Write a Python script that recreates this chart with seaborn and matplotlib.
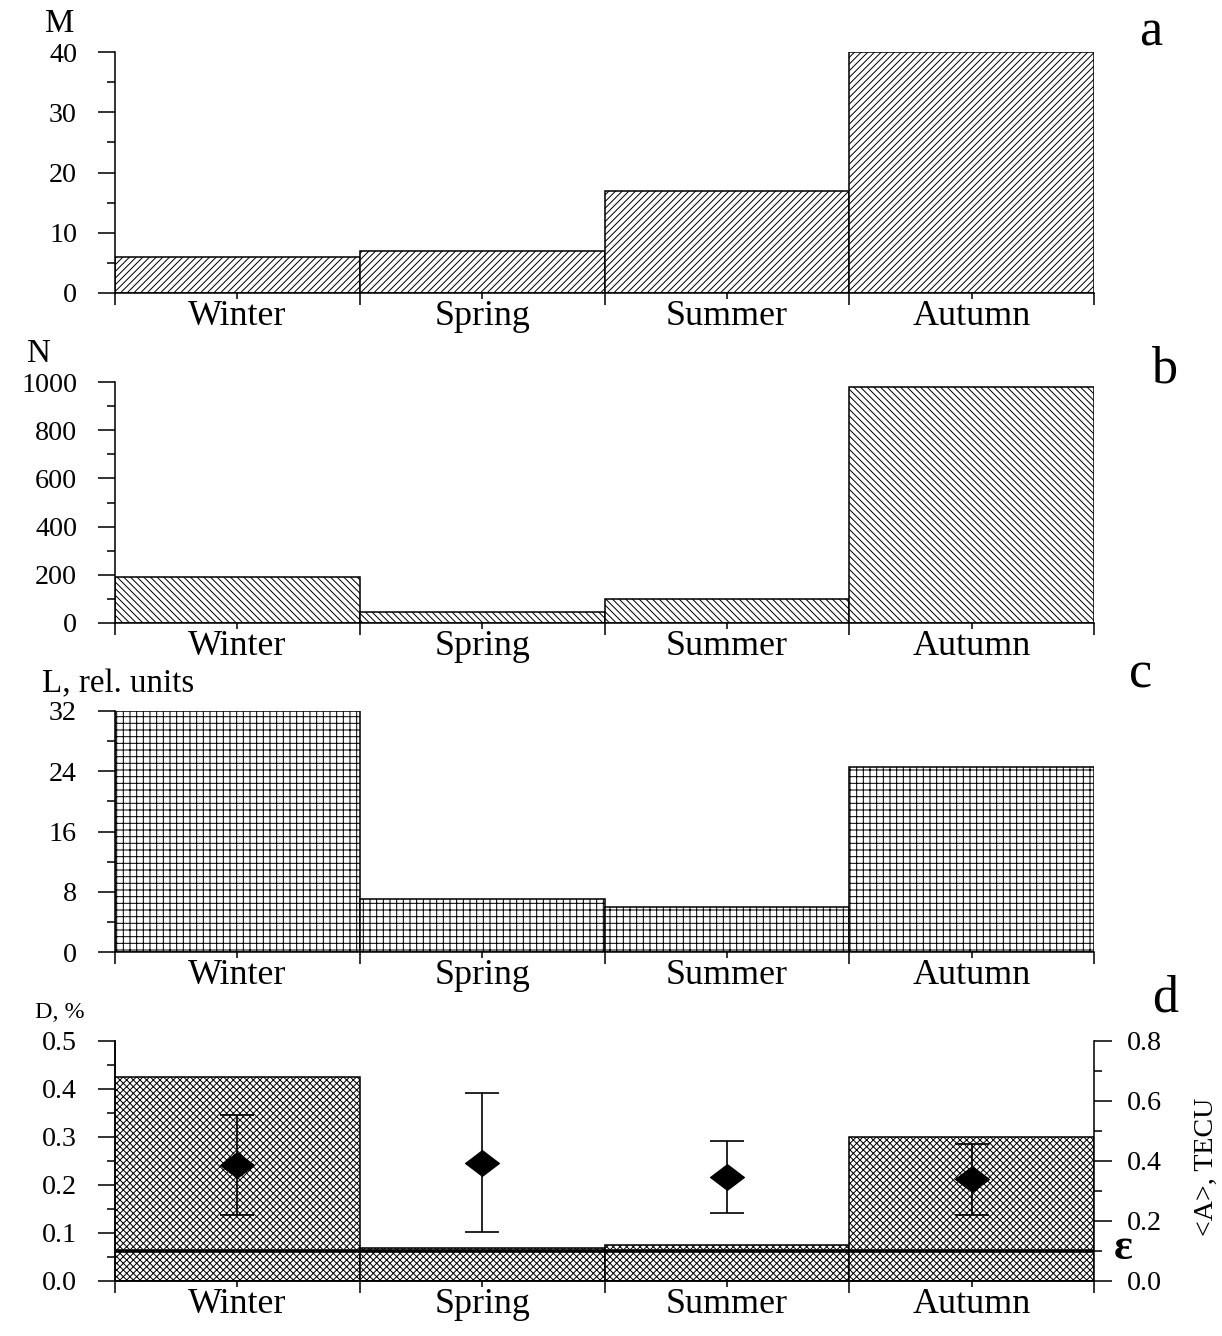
import numpy as np
import pandas as pd
import matplotlib
matplotlib.use("Agg")
import matplotlib.pyplot as plt
import seaborn as sns
from matplotlib.ticker import MultipleLocator, FormatStrFormatter

# ---------------- data ----------------
seasons = ["Winter", "Spring", "Summer", "Autumn"]
M_values = [6, 7, 17, 40]
N_values = [190, 47, 100, 980]
L_values = [32.0, 7.0, 6.0, 24.6]
D_values = [0.425, 0.069, 0.074, 0.300]
A_mean = [0.388, 0.395, 0.346, 0.339]
A_low = [0.221, 0.165, 0.226, 0.219]
A_high = [0.552, 0.626, 0.467, 0.456]
epsilon = 0.1

# ---------------- layout ----------------
W, H, DPI = 1222, 1336, 80


def pt(px):
    return px * 72.0 / DPI


sns.set_theme(style="ticks")
plt.rcParams["font.family"] = ["Liberation Serif", "DejaVu Serif"]
plt.rcParams["hatch.linewidth"] = 0.9
plt.rcParams["axes.linewidth"] = 1.4
plt.rcParams["axes.edgecolor"] = "black"
plt.rcParams["xtick.color"] = "black"
plt.rcParams["ytick.color"] = "black"
plt.rcParams["text.color"] = "black"

fig = plt.figure(figsize=(W / DPI, H / DPI), dpi=DPI)
LEFT, RIGHT = 115, 1094


def new_axes(top, bot):
    return fig.add_axes([LEFT / W, 1 - bot / H, (RIGHT - LEFT) / W, (bot - top) / H])


def ftext(x, y, s, size, **kw):
    fig.text(x / W, 1 - y / H, s, fontsize=pt(size), va="baseline", ha="left", **kw)


def panel(ax, values, hatch, ymax, major, minor, fmt):
    df = pd.DataFrame({"season": seasons, "value": values})
    sns.barplot(data=df, x="season", y="value", order=seasons, color="white",
                edgecolor="black", linewidth=1.4, width=1.0, saturation=1,
                hatch=hatch, ax=ax)
    ax.set_xlim(-0.5, 3.5)
    ax.set_ylim(0, ymax)
    ax.set_xlabel("")
    ax.set_ylabel("")
    ax.set_xticks([-0.5, 0.5, 1.5, 2.5, 3.5])
    ax.set_xticklabels([])
    ax.set_xticks([0, 1, 2, 3], labels=seasons, minor=True)
    ax.tick_params(axis="x", which="major", length=pt(12), width=1.4, direction="out")
    ax.tick_params(axis="x", which="minor", length=pt(6), width=1.4, direction="out",
                   pad=pt(1), labelsize=pt(36))
    ax.yaxis.set_major_locator(MultipleLocator(major))
    ax.yaxis.set_minor_locator(MultipleLocator(minor))
    ax.yaxis.set_major_formatter(FormatStrFormatter(fmt))
    ax.tick_params(axis="y", which="major", length=pt(17), width=1.4, direction="out",
                   pad=pt(21), labelsize=pt(28))
    ax.tick_params(axis="y", which="minor", length=pt(8), width=1.4, direction="out")
    ax.spines["top"].set_visible(False)
    ax.spines["right"].set_visible(False)


ax_a = new_axes(52, 293)
panel(ax_a, M_values, "////", 40, 10, 5, "%d")
ax_b = new_axes(382, 623)
panel(ax_b, N_values, "\\\\\\\\", 1000, 200, 100, "%d")
ax_c = new_axes(711, 952)
panel(ax_c, L_values, "++", 32, 8, 4, "%d")
ax_d = new_axes(1041, 1281)
panel(ax_d, D_values, "xxxx", 0.5, 0.1, 0.05, "%.1f")

# right axis of panel d
ax2 = ax_d.twinx()
ax2.set_ylim(0, 0.8)
ax2.yaxis.set_major_locator(MultipleLocator(0.2))
ax2.yaxis.set_minor_locator(MultipleLocator(0.1))
ax2.yaxis.set_major_formatter(FormatStrFormatter("%.1f"))
ax2.tick_params(axis="y", which="major", length=pt(18), width=1.4, direction="out",
                pad=pt(15), labelsize=pt(28))
ax2.tick_params(axis="y", which="minor", length=pt(8), width=1.4, direction="out")
ax2.spines["top"].set_visible(False)
ax2.axhline(epsilon, color="black", lw=3.2, zorder=3)

diamond = [(-1.0, 0.0), (0.0, 0.76), (1.0, 0.0), (0.0, -0.76), (-1.0, 0.0)]
yerr = [np.array(A_mean) - np.array(A_low), np.array(A_high) - np.array(A_mean)]
ax2.errorbar(np.arange(len(seasons)), A_mean, yerr=yerr, fmt="none", ecolor="black",
             elinewidth=1.5, capsize=pt(17), capthick=1.5, zorder=4)
ax2.plot(np.arange(len(seasons)), A_mean, linestyle="none", marker=diamond,
         markersize=pt(34), color="black", zorder=5)

# ---------------- texts ----------------
ftext(45, 32, "M", 33)
ftext(27, 362, "N", 33)
ftext(42, 692, "L, rel. units", 33)
ftext(35, 1018, "D, %", 24)

ftext(1139, 46, "a", 52)
ftext(1152, 382, "b", 52)
ftext(1129, 688, "c", 52)
ftext(1152, 1012, "d", 52)

ftext(1114, 1259, "ε", 44, fontweight="bold")
fig.text(1206 / W, 1 - 1167 / H, "<A>, TECU", fontsize=pt(28), rotation=90,
         ha="center", va="center")

fig.savefig("out.png", dpi=DPI, facecolor="white")
